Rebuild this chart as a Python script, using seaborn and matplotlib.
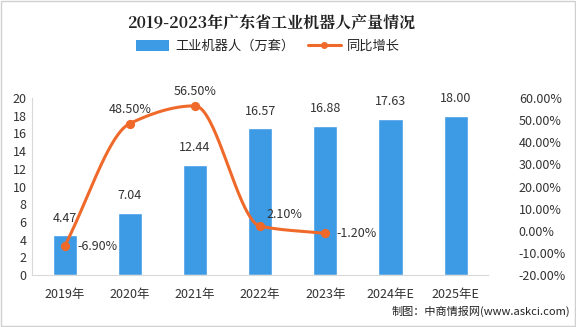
import numpy as np
import pandas as pd
import matplotlib
matplotlib.use("Agg")
import matplotlib.pyplot as plt
import seaborn as sns
from matplotlib.patches import Patch
from matplotlib.lines import Line2D

years = ["2019年", "2020年", "2021年", "2022年", "2023年", "2024年E", "2025年E"]
output = [4.47, 7.04, 12.44, 16.57, 16.88, 17.63, 18.00]
growth_years = ["2019年", "2020年", "2021年", "2022年", "2023年"]
growth = [-6.90, 48.50, 56.50, 2.10, -1.20]

title = "2019-2023年广东省工业机器人产量情况"
bar_name = "工业机器人（万套）"
line_name = "同比增长"
source = "制图：中商情报网(www.askci.com)"

sns.set_theme(style="white")
plt.rcParams["font.family"] = ["Noto Sans CJK SC", "DejaVu Sans"]
plt.rcParams["axes.unicode_minus"] = False

BLUE = "#3d9be6"
ORANGE = "#ef6a2a"
GREY = "#333333"

fig = plt.figure(figsize=(5.76, 3.27), dpi=100)
fig.patch.set_facecolor("white")

ax = fig.add_axes([0.0556, 0.159, 0.792, 0.541])

df = pd.DataFrame({"year": years, "value": output})
sns.barplot(data=df, x="year", y="value", color=BLUE, width=0.37,
            saturation=1, ax=ax)
ax.set_ylim(0, 20)
ax.set_yticks(range(0, 21, 2))
ax.set_xlim(-0.5, len(years) - 0.5)
ax.set_xlabel("")
ax.set_ylabel("")
ax.tick_params(axis="both", length=0, labelsize=9, colors=GREY, pad=4)
ax.tick_params(axis="x", pad=9)
for s in ["top", "right"]:
    ax.spines[s].set_visible(False)
for s in ["left", "bottom"]:
    ax.spines[s].set_color("#d9d9d9")
    ax.spines[s].set_linewidth(0.8)

for i, v in enumerate(output):
    ax.text(i, v + 1.2, f"{v:.2f}", ha="center", va="bottom",
            fontsize=9, color=GREY)

# growth rate on a secondary axis, drawn as a smoothed curve
ax2 = ax.twinx()
ax2.set_ylim(-20, 60)
ax2.set_yticks(range(-20, 61, 10))
ax2.set_yticklabels([f"{t:.2f}%" for t in range(-20, 61, 10)])
ax2.tick_params(axis="y", length=0, labelsize=9, colors=GREY, pad=22)
for t in ax2.get_yticklabels():
    t.set_horizontalalignment("left")
for s in ax2.spines.values():
    s.set_visible(False)

gx = np.array([years.index(y) for y in growth_years], dtype=float)
gy = np.array(growth, dtype=float)


def monotone_curve(x, y, n=40):
    """Fritsch-Carlson monotone cubic through the given points."""
    h = np.diff(x)
    d = np.diff(y) / h
    m = np.zeros_like(y)
    m[0], m[-1] = d[0], d[-1]
    for k in range(1, len(y) - 1):
        if d[k - 1] * d[k] <= 0:
            m[k] = 0.0
        else:
            w1 = 2 * h[k] + h[k - 1]
            w2 = h[k] + 2 * h[k - 1]
            m[k] = (w1 + w2) / (w1 / d[k - 1] + w2 / d[k])
    xs, ys = [], []
    t = np.linspace(0, 1, n)
    for k in range(len(x) - 1):
        h00 = 2 * t**3 - 3 * t**2 + 1
        h10 = t**3 - 2 * t**2 + t
        h01 = -2 * t**3 + 3 * t**2
        h11 = t**3 - t**2
        xs.append(x[k] + t * h[k])
        ys.append(h00 * y[k] + h10 * h[k] * m[k] + h01 * y[k + 1] + h11 * h[k] * m[k + 1])
    return np.concatenate(xs), np.concatenate(ys)


sx, sy = monotone_curve(gx, gy)
ax2.plot(sx, sy, color=ORANGE, lw=2.2, solid_capstyle="round", zorder=3)
ax2.scatter(gx, gy, s=32, color=ORANGE, zorder=4, edgecolor=ORANGE)

offsets = [(0.2, 0, "left", "center"),
           (0, 3.5, "center", "bottom"),
           (0, 3.5, "center", "bottom"),
           (0.1, 2.5, "left", "bottom"),
           (0.17, 0, "left", "center")]
for x, y, (dx, dy, ha, va) in zip(gx, gy, offsets):
    ax2.text(x + dx, y + dy, f"{y:.2f}%", ha=ha, va=va, fontsize=9, color=GREY)

# title and legend
fig.text(0.47, 0.932, title, ha="center", va="center", fontsize=11.5,
         fontweight="bold", color="#222222",
         family=["Noto Serif CJK SC", "Noto Sans CJK SC", "DejaVu Sans"])
handles = [Patch(facecolor=BLUE, edgecolor="none"),
           Line2D([0], [0], color=ORANGE, lw=2.2, marker="o", markersize=4)]
fig.legend(handles, [bar_name, line_name], loc="center",
           bbox_to_anchor=(0.465, 0.858), ncol=2, frameon=False,
           fontsize=9.5, handlelength=2.5, handleheight=0.9,
           columnspacing=1.0, handletextpad=0.5)

fig.text(0.99, 0.048, source, ha="right", va="center", fontsize=8,
         color="#222222")

border = plt.Rectangle((0.001, 0.002), 0.997, 0.995, transform=fig.transFigure,
                       fill=False, edgecolor="#d0d0d0", lw=1)
fig.patches.append(border)

fig.savefig("out.png", dpi=100, facecolor="white")
